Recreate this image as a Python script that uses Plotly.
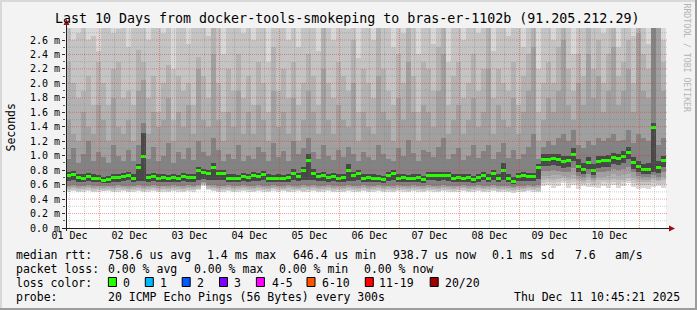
import numpy as np
import pandas as pd
import plotly.graph_objects as go

# ------------------------------------------------------------------ data
TITLE = "Last 10 Days from docker-tools-smokeping to bras-er-1102b (91.205.212.29)"
first_column = "2025-12-01 10:40:00"     # start of first 2-hour consolidation column
column_hours = 2
view_start = "2025-12-01 10:36:00"
view_days = 10

x_tick_times = ["2025-12-01 12:00", "2025-12-02 12:00", "2025-12-03 12:00", "2025-12-04 12:00",
                "2025-12-05 12:00", "2025-12-06 12:00", "2025-12-07 12:00", "2025-12-08 12:00",
                "2025-12-09 12:00", "2025-12-10 12:00"]
x_tick_labels = ["01 Dec", "02 Dec", "03 Dec", "04 Dec", "05 Dec",
                 "06 Dec", "07 Dec", "08 Dec", "09 Dec", "10 Dec"]
y_tick_values = [0.0, 0.2, 0.4, 0.6, 0.8, 1.0, 1.2, 1.4, 1.6, 1.8, 2.0, 2.2, 2.4, 2.6]
y_tick_labels = ["0.0 m", "0.2 m", "0.4 m", "0.6 m", "0.8 m", "1.0 m", "1.2 m",
                 "1.4 m", "1.6 m", "1.8 m", "2.0 m", "2.2 m", "2.4 m", "2.6 m"]
y_max = 2.766   # ms

# median RTT (ms) per 2-hour column
median_rtt = [
    0.72, 0.74, 0.70, 0.69, 0.71, 0.69, 0.68, 0.66, 0.67, 0.70, 0.70, 0.71,
    0.73, 0.69, 0.83, 0.99, 0.70, 0.71, 0.69, 0.70, 0.68, 0.70, 0.68, 0.71,
    0.70, 0.70, 0.79, 0.77, 0.75, 0.83, 0.75, 0.75, 0.69, 0.69, 0.68, 0.71,
    0.70, 0.72, 0.71, 0.74, 0.69, 0.68, 0.69, 0.68, 0.70, 0.76, 0.71, 0.80,
    0.94, 0.76, 0.71, 0.72, 0.70, 0.71, 0.69, 0.70, 0.80, 0.72, 0.75, 0.69,
    0.70, 0.69, 0.68, 0.67, 0.72, 0.75, 0.69, 0.70, 0.68, 0.69, 0.70, 0.67,
    0.73, 0.73, 0.72, 0.73, 0.72, 0.69, 0.70, 0.69, 0.70, 0.67, 0.70, 0.73,
    0.69, 0.75, 0.69, 0.80, 0.69, 0.65, 0.71, 0.72, 0.71, 0.71, 0.83, 0.95,
    0.95, 0.96, 0.95, 0.92, 0.93, 1.02, 0.85, 0.81, 0.90, 0.80, 0.92, 0.93,
    0.94, 0.97, 0.96, 0.99, 1.04, 0.91, 0.85, 0.81, 0.81, 1.39, 0.84, 0.94]

# smoke: sorted-ping envelopes (ms); band 1 = outermost pair, band 6 = innermost
ping_hi_1 = [3.0] * 120   # outermost ping is above the top of the scale in every column
ping_hi_2 = [
    3.0, 2.6, 2.7, 3.0, 2.6, 2.65, 2.45, 3.0, 3.0, 2.7, 2.75, 3.0,
    2.5, 3.0, 3.0, 3.0, 2.6, 3.0, 3.0, 2.7, 3.0, 2.2, 3.0, 3.0,
    2.55, 3.0, 3.0, 3.0, 2.65, 3.0, 3.0, 2.4, 3.0, 3.0, 3.0, 2.7,
    3.0, 2.6, 3.0, 3.0, 2.3, 3.0, 3.0, 3.0, 2.6, 3.0, 2.5, 3.0,
    3.0, 3.0, 2.45, 3.0, 3.0, 2.6, 3.0, 3.0, 2.75, 3.0, 2.35, 3.0,
    3.0, 2.6, 3.0, 3.0, 3.0, 2.5, 3.0, 2.7, 3.0, 3.0, 2.4, 3.0,
    3.0, 2.55, 3.0, 3.0, 2.3, 3.0, 3.0, 2.6, 3.0, 3.0, 2.7, 3.0,
    3.0, 2.45, 3.0, 3.0, 2.65, 3.0, 3.0, 2.5, 3.0, 3.0, 2.2, 3.0,
    3.0, 2.6, 3.0, 3.0, 3.0, 2.4, 3.0, 3.0, 2.6, 3.0, 3.0, 2.7,
    3.0, 3.0, 2.5, 3.0, 3.0, 2.65, 3.0, 3.0, 2.55, 3.0, 3.0, 2.6]
ping_hi_3 = [
    2.3, 2.0, 1.8, 1.9, 2.1, 1.7, 2.3, 2.0, 1.7, 2.2, 2.3, 1.8,
    1.9, 1.7, 2.46, 2.3, 1.8, 2.1, 1.6, 2.0, 2.25, 1.5, 2.1, 1.9,
    2.0, 1.7, 2.36, 2.1, 1.8, 3.0, 2.0, 1.6, 2.2, 1.9, 2.4, 1.8,
    2.1, 1.7, 2.3, 2.0, 1.6, 2.5, 1.9, 2.2, 1.8, 2.3, 1.7, 2.0,
    2.4, 2.1, 1.7, 3.0, 2.0, 1.8, 2.3, 2.1, 1.9, 2.6, 1.6, 2.2,
    2.0, 1.8, 3.0, 2.2, 1.9, 1.7, 2.4, 2.0, 3.0, 2.1, 1.6, 2.3,
    2.2, 1.9, 2.5, 3.0, 1.7, 2.1, 2.3, 1.8, 2.0, 2.4, 1.9, 2.2,
    3.0, 1.8, 2.2, 2.0, 1.9, 2.3, 1.7, 2.1, 2.4, 3.0, 1.6, 2.0,
    2.3, 2.0, 2.5, 3.0, 2.2, 1.9, 2.4, 2.1, 3.0, 2.2, 2.6, 2.0,
    2.4, 3.0, 2.1, 2.3, 2.6, 2.0, 3.0, 2.4, 2.2, 2.5, 3.0, 2.3]
ping_hi_4 = [
    1.5, 1.3, 1.2, 1.6, 1.4, 1.3, 1.7, 1.5, 1.2, 1.8, 1.4, 1.3,
    1.5, 1.2, 1.9, 2.05, 1.3, 1.6, 1.4, 1.5, 1.8, 1.2, 1.6, 1.4,
    1.7, 1.3, 2.2, 1.5, 1.4, 2.4, 1.5, 1.2, 1.6, 1.4, 1.9, 1.3,
    1.6, 1.3, 1.7, 1.5, 1.2, 1.9, 1.4, 1.6, 1.3, 1.8, 1.2, 1.5,
    1.9, 1.6, 1.3, 2.2, 1.5, 1.3, 1.7, 1.5, 1.4, 2.0, 1.2, 1.6,
    1.4, 1.3, 2.1, 1.6, 1.5, 1.2, 1.8, 1.5, 2.3, 1.6, 1.2, 1.7,
    1.6, 1.4, 1.9, 2.4, 1.3, 1.5, 1.7, 1.3, 1.5, 1.8, 1.4, 1.6,
    2.2, 1.3, 1.7, 1.5, 1.4, 1.8, 1.3, 1.6, 1.9, 2.5, 1.2, 1.5,
    1.8, 1.6, 1.9, 2.6, 1.7, 1.5, 2.0, 1.7, 2.4, 1.8, 2.1, 1.6,
    1.9, 2.5, 1.7, 1.9, 2.2, 1.6, 2.7, 1.9, 1.8, 3.0, 2.8, 1.9]
ping_hi_5 = [
    0.95, 1.10, 0.90, 1.02, 1.20, 0.92, 1.05, 0.98, 0.90, 1.15, 1.00, 0.93,
    1.08, 0.92, 1.15, 1.45, 0.95, 1.12, 0.93, 1.00, 1.18, 0.90, 1.05, 0.96,
    1.10, 0.94, 1.20, 1.05, 1.00, 1.25, 1.08, 0.92, 1.02, 0.95, 1.15, 0.92,
    1.00, 0.95, 1.12, 1.05, 0.92, 1.18, 0.98, 1.06, 0.93, 1.20, 1.02, 1.10,
    1.25, 1.05, 0.95, 1.15, 1.00, 0.94, 1.08, 0.98, 1.12, 1.02, 0.93, 1.05,
    0.98, 0.94, 1.15, 1.02, 0.96, 0.92, 1.10, 1.00, 1.22, 1.04, 0.92, 1.08,
    1.05, 0.98, 1.12, 1.25, 0.95, 1.02, 1.10, 0.94, 1.00, 1.15, 0.97, 1.06,
    1.15, 0.96, 1.05, 1.18, 0.97, 1.08, 0.95, 1.02, 1.12, 1.30, 0.96, 1.12,
    1.20, 1.15, 1.25, 1.30, 1.20, 1.35, 1.15, 1.10, 1.20, 1.15, 1.25, 1.20,
    1.25, 1.30, 1.20, 1.22, 1.35, 1.18, 1.30, 1.25, 1.20, 3.00, 1.15, 1.25]
ping_hi_6 = [
    0.77, 0.79, 0.75, 0.74, 0.76, 0.74, 0.73, 0.71, 0.72, 0.75, 0.75, 0.76,
    0.78, 0.74, 0.88, 1.32, 0.75, 0.76, 0.74, 0.75, 0.73, 0.75, 0.73, 0.76,
    0.75, 0.75, 0.84, 0.82, 0.80, 0.90, 0.80, 0.80, 0.74, 0.74, 0.73, 0.76,
    0.75, 0.77, 0.76, 0.79, 0.74, 0.73, 0.74, 0.73, 0.75, 0.81, 0.76, 0.85,
    1.02, 0.81, 0.76, 0.77, 0.75, 0.76, 0.74, 0.75, 0.88, 0.77, 0.80, 0.74,
    0.75, 0.74, 0.73, 0.72, 0.77, 0.80, 0.74, 0.75, 0.73, 0.74, 0.75, 0.72,
    0.78, 0.78, 0.77, 0.78, 0.77, 0.74, 0.75, 0.74, 0.75, 0.72, 0.75, 0.78,
    0.74, 0.80, 0.74, 0.90, 0.74, 0.70, 0.76, 0.77, 0.76, 0.76, 0.88, 1.02,
    1.02, 1.03, 1.02, 0.99, 1.00, 1.10, 0.95, 0.90, 0.98, 0.89, 0.99, 1.00,
    1.01, 1.04, 1.03, 1.06, 1.12, 0.98, 0.92, 0.88, 0.90, 1.45, 0.92, 1.00]
ping_lo_6 = [
    0.65, 0.66, 0.64, 0.63, 0.645, 0.63, 0.63, 0.62, 0.625, 0.64, 0.64, 0.645,
    0.66, 0.635, 0.65, 0.65, 0.64, 0.645, 0.63, 0.64, 0.63, 0.64, 0.63, 0.645,
    0.64, 0.64, 0.66, 0.68, 0.66, 0.66, 0.66, 0.66, 0.635, 0.635, 0.63, 0.645,
    0.64, 0.655, 0.645, 0.66, 0.635, 0.63, 0.635, 0.63, 0.64, 0.66, 0.645, 0.66,
    0.66, 0.66, 0.645, 0.65, 0.64, 0.645, 0.635, 0.64, 0.65, 0.65, 0.66, 0.635,
    0.64, 0.635, 0.63, 0.625, 0.65, 0.66, 0.635, 0.64, 0.63, 0.635, 0.64, 0.625,
    0.66, 0.66, 0.65, 0.66, 0.65, 0.635, 0.64, 0.635, 0.64, 0.625, 0.64, 0.66,
    0.635, 0.66, 0.635, 0.66, 0.635, 0.61, 0.645, 0.65, 0.645, 0.645, 0.68, 0.86,
    0.86, 0.87, 0.86, 0.83, 0.84, 0.92, 0.77, 0.74, 0.81, 0.73, 0.83, 0.84,
    0.85, 0.88, 0.87, 0.90, 0.95, 0.82, 0.77, 0.74, 0.74, 0.78, 0.76, 0.85]
ping_lo_5 = [
    0.585, 0.59, 0.58, 0.585, 0.59, 0.58, 0.585, 0.575, 0.585, 0.58, 0.59, 0.585,
    0.58, 0.585, 0.59, 0.58, 0.585, 0.59, 0.58, 0.585, 0.58, 0.59, 0.585, 0.58,
    0.59, 0.585, 0.60, 0.64, 0.60, 0.59, 0.58, 0.585, 0.59, 0.58, 0.585, 0.59,
    0.585, 0.58, 0.59, 0.585, 0.58, 0.59, 0.585, 0.58, 0.59, 0.585, 0.58, 0.59,
    0.585, 0.59, 0.58, 0.585, 0.59, 0.58, 0.585, 0.58, 0.59, 0.585, 0.58, 0.59,
    0.58, 0.585, 0.59, 0.58, 0.585, 0.58, 0.59, 0.585, 0.58, 0.59, 0.585, 0.58,
    0.59, 0.585, 0.58, 0.59, 0.585, 0.58, 0.585, 0.59, 0.58, 0.585, 0.59, 0.58,
    0.585, 0.59, 0.58, 0.585, 0.58, 0.57, 0.585, 0.58, 0.59, 0.585, 0.59, 0.79,
    0.79, 0.80, 0.79, 0.77, 0.77, 0.83, 0.72, 0.70, 0.75, 0.69, 0.77, 0.78,
    0.79, 0.81, 0.80, 0.82, 0.84, 0.77, 0.72, 0.70, 0.70, 0.73, 0.71, 0.78]
ping_lo_4 = [
    0.562, 0.567, 0.557, 0.562, 0.567, 0.557, 0.562, 0.555, 0.562, 0.557, 0.567, 0.562,
    0.557, 0.562, 0.567, 0.557, 0.562, 0.567, 0.557, 0.562, 0.557, 0.567, 0.562, 0.557,
    0.567, 0.562, 0.58, 0.625, 0.58, 0.567, 0.557, 0.562, 0.567, 0.557, 0.562, 0.567,
    0.562, 0.557, 0.567, 0.562, 0.557, 0.567, 0.562, 0.557, 0.567, 0.562, 0.557, 0.567,
    0.562, 0.567, 0.557, 0.562, 0.567, 0.557, 0.562, 0.557, 0.567, 0.562, 0.557, 0.567,
    0.557, 0.562, 0.567, 0.557, 0.562, 0.557, 0.567, 0.562, 0.557, 0.567, 0.562, 0.557,
    0.567, 0.562, 0.557, 0.567, 0.562, 0.557, 0.562, 0.567, 0.557, 0.562, 0.567, 0.557,
    0.562, 0.567, 0.557, 0.562, 0.557, 0.55, 0.562, 0.557, 0.567, 0.562, 0.567, 0.72,
    0.72, 0.73, 0.73, 0.72, 0.71, 0.73, 0.68, 0.67, 0.70, 0.66, 0.70, 0.71,
    0.72, 0.74, 0.72, 0.73, 0.75, 0.71, 0.68, 0.66, 0.66, 0.69, 0.67, 0.71]
ping_lo_3 = [
    0.542, 0.547, 0.538, 0.542, 0.547, 0.538, 0.542, 0.536, 0.542, 0.538, 0.547, 0.542,
    0.538, 0.542, 0.547, 0.538, 0.542, 0.547, 0.538, 0.542, 0.538, 0.547, 0.542, 0.538,
    0.547, 0.542, 0.56, 0.61, 0.56, 0.547, 0.538, 0.542, 0.547, 0.538, 0.542, 0.547,
    0.542, 0.538, 0.547, 0.542, 0.538, 0.55, 0.542, 0.538, 0.547, 0.542, 0.538, 0.547,
    0.542, 0.547, 0.538, 0.542, 0.547, 0.538, 0.542, 0.538, 0.547, 0.542, 0.538, 0.547,
    0.538, 0.542, 0.547, 0.538, 0.542, 0.538, 0.547, 0.542, 0.538, 0.547, 0.542, 0.538,
    0.547, 0.542, 0.538, 0.547, 0.542, 0.538, 0.542, 0.547, 0.538, 0.542, 0.547, 0.538,
    0.542, 0.547, 0.538, 0.542, 0.538, 0.532, 0.542, 0.538, 0.547, 0.542, 0.547, 0.67,
    0.68, 0.67, 0.68, 0.69, 0.67, 0.68, 0.65, 0.64, 0.66, 0.63, 0.66, 0.67,
    0.67, 0.68, 0.66, 0.67, 0.69, 0.66, 0.64, 0.63, 0.63, 0.66, 0.65, 0.66]
ping_lo_2 = [
    0.522, 0.526, 0.518, 0.522, 0.526, 0.518, 0.522, 0.518, 0.526, 0.518, 0.522, 0.526,
    0.518, 0.522, 0.526, 0.518, 0.522, 0.526, 0.518, 0.522, 0.518, 0.526, 0.522, 0.518,
    0.526, 0.522, 0.54, 0.60, 0.545, 0.526, 0.518, 0.522, 0.526, 0.518, 0.522, 0.526,
    0.522, 0.518, 0.526, 0.522, 0.518, 0.535, 0.522, 0.526, 0.518, 0.522, 0.526, 0.518,
    0.522, 0.526, 0.518, 0.522, 0.526, 0.518, 0.522, 0.518, 0.526, 0.522, 0.518, 0.526,
    0.518, 0.522, 0.526, 0.518, 0.522, 0.518, 0.526, 0.522, 0.518, 0.526, 0.522, 0.518,
    0.526, 0.522, 0.518, 0.526, 0.522, 0.518, 0.522, 0.526, 0.518, 0.522, 0.526, 0.518,
    0.522, 0.526, 0.518, 0.522, 0.518, 0.512, 0.522, 0.518, 0.526, 0.522, 0.518, 0.62,
    0.64, 0.62, 0.63, 0.65, 0.62, 0.64, 0.61, 0.61, 0.62, 0.60, 0.61, 0.63,
    0.62, 0.64, 0.61, 0.63, 0.65, 0.62, 0.60, 0.59, 0.59, 0.62, 0.61, 0.61]
ping_lo_1 = [
    0.50, 0.505, 0.50, 0.50, 0.505, 0.50, 0.50, 0.505, 0.505, 0.50, 0.50, 0.505,
    0.50, 0.50, 0.505, 0.50, 0.50, 0.505, 0.50, 0.50, 0.50, 0.505, 0.50, 0.50,
    0.505, 0.50, 0.52, 0.58, 0.53, 0.505, 0.50, 0.50, 0.505, 0.50, 0.50, 0.505,
    0.50, 0.50, 0.505, 0.50, 0.50, 0.515, 0.50, 0.505, 0.50, 0.50, 0.505, 0.50,
    0.50, 0.505, 0.50, 0.50, 0.505, 0.50, 0.50, 0.50, 0.505, 0.50, 0.50, 0.505,
    0.50, 0.50, 0.505, 0.50, 0.50, 0.50, 0.505, 0.50, 0.50, 0.505, 0.50, 0.50,
    0.505, 0.50, 0.50, 0.505, 0.50, 0.50, 0.50, 0.505, 0.50, 0.50, 0.505, 0.50,
    0.50, 0.505, 0.50, 0.50, 0.50, 0.49, 0.50, 0.50, 0.505, 0.50, 0.50, 0.58,
    0.60, 0.55, 0.58, 0.62, 0.56, 0.60, 0.54, 0.58, 0.57, 0.57, 0.55, 0.58,
    0.56, 0.60, 0.55, 0.58, 0.62, 0.57, 0.54, 0.55, 0.54, 0.57, 0.58, 0.55]

smoke_colors = ["#d8d8d8", "#c4c4c4", "#b2b2b2", "#a0a0a0", "#838383", "#484848"]
loss_labels = ["0", "1", "2", "3", "4-5", "6-10", "11-19", "20/20"]
loss_colors = ["#26ff00", "#00b8ff", "#0059ff", "#7e00ff", "#ff00ff", "#ff5500", "#ff0000", "#a10000"]

stats_rtt = ["758.6 us avg", "1.4 ms max", "646.4 us min", "938.7 us now", "0.1 ms sd", "7.6", "am/s"]
stats_loss = ["0.00 % avg", "0.00 % max", "0.00 % min", "0.00 % now"]
probe_text = "20 ICMP Echo Pings (56 Bytes) every 300s"
stamp_text = "Thu Dec 11 10:45:21 2025"

# ------------------------------------------------------------------ geometry helpers (pixels -> paper)
W, H = 697, 310
PL, PR, PT, PB = 66, 666, 28, 228
FONT = "DejaVu Sans Mono"


def fx(px):
    return (px - PL) / (PR - PL)


def fy(py):
    return (PB - py) / (PB - PT)


col_ms = column_hours * 3600 * 1000
times = pd.date_range(first_column, periods=len(median_rtt), freq=f"{column_hours}h") + pd.Timedelta(hours=column_hours / 2)

fig = go.Figure()

his = [ping_hi_1, ping_hi_2, ping_hi_3, ping_hi_4, ping_hi_5, ping_hi_6]
los = [ping_lo_1, ping_lo_2, ping_lo_3, ping_lo_4, ping_lo_5, ping_lo_6]
for hi, lo, col in zip(his, los, smoke_colors):
    hi = np.array(hi)
    lo = np.array(lo)
    fig.add_trace(go.Bar(x=times, y=hi - lo, base=lo, width=col_ms,
                         marker=dict(color=col, line=dict(width=0)),
                         hoverinfo="skip", showlegend=False))

med = np.array(median_rtt)
thick = 3 * y_max / (PB - PT)
fig.add_trace(go.Bar(x=times, y=[thick] * len(med), base=med - thick / 2, width=col_ms,
                     marker=dict(color=loss_colors[0], line=dict(width=0)),
                     hoverinfo="skip", showlegend=False))

shapes = []
# grid (drawn above the smoke, like rrdtool)
view_end = pd.Timestamp(view_start) + pd.Timedelta(days=view_days)
for t in pd.date_range("2025-12-01 12:00", view_end, freq="6h"):
    major = t.hour == 0
    shapes.append(dict(type="line", xref="x", yref="paper", x0=t, x1=t, y0=0, y1=1,
                       line=dict(color="rgba(230,40,40,0.45)" if major else "rgba(120,120,120,0.35)",
                                 width=1, dash="1px,1px"), layer="above"))
for i in range(1, 28):
    v = i * 0.1
    major = i % 2 == 0
    shapes.append(dict(type="line", xref="paper", yref="y", x0=0, x1=fx(668), y0=v, y1=v,
                       line=dict(color="rgba(230,40,40,0.45)" if major else "rgba(120,120,120,0.35)",
                                 width=1, dash="1px,1px"), layer="above"))
# axes
axis_col = "#202020"
shapes.append(dict(type="line", xref="paper", yref="paper", x0=fx(66.5), x1=fx(66.5), y0=fy(231), y1=fy(24),
                   line=dict(color=axis_col, width=1), layer="above"))
shapes.append(dict(type="line", xref="paper", yref="paper", x0=fx(62), x1=fx(670), y0=fy(228.5), y1=fy(228.5),
                   line=dict(color=axis_col, width=1), layer="above"))
arrow_col = "#9a1010"
shapes.append(dict(type="path", xref="paper", yref="paper",
                   path=f"M {fx(63.5)} {fy(25)} L {fx(69.5)} {fy(25)} L {fx(66.5)} {fy(19)} Z",
                   fillcolor=arrow_col, line=dict(width=0), layer="above"))
shapes.append(dict(type="path", xref="paper", yref="paper",
                   path=f"M {fx(669)} {fy(225.5)} L {fx(669)} {fy(231.5)} L {fx(675)} {fy(228.5)} Z",
                   fillcolor=arrow_col, line=dict(width=0), layer="above"))
# frame
shapes.append(dict(type="rect", xref="paper", yref="paper", x0=fx(0), x1=fx(W), y0=fy(0), y1=fy(2),
                   fillcolor="#d8d8d8", line=dict(width=0), layer="above"))
shapes.append(dict(type="rect", xref="paper", yref="paper", x0=fx(0), x1=fx(2), y0=fy(0), y1=fy(H),
                   fillcolor="#d8d8d8", line=dict(width=0), layer="above"))
shapes.append(dict(type="rect", xref="paper", yref="paper", x0=fx(0), x1=fx(W), y0=fy(H - 2), y1=fy(H),
                   fillcolor="#9c9c9c", line=dict(width=0), layer="above"))
shapes.append(dict(type="rect", xref="paper", yref="paper", x0=fx(W - 2), x1=fx(W), y0=fy(0), y1=fy(H),
                   fillcolor="#9c9c9c", line=dict(width=0), layer="above"))

annotations = []


def ann(text, x, y, size=11.5, anchor="left", color="#000000", angle=0):
    annotations.append(dict(text=text, x=fx(x), y=fy(y), xref="paper", yref="paper",
                            xanchor=anchor, yanchor="middle", showarrow=False, textangle=angle,
                            font=dict(family=FONT, size=size, color=color)))


ann(TITLE, 347, 18.5, size=13.3, anchor="center")
ann("Seconds", 10.5, 128, size=11.5, anchor="center", angle=-90)
ann("RRDTOOL / TOBI OETIKER", 686.5, 58, size=8.2, anchor="center", color="#b4b4b4", angle=90)

# legend rows
ann("median rtt:", 14, 255)
for txt, x in zip(stats_rtt, [105.6, 204.5, 291.3, 391.3, 490.4, 573.0, 612.7]):
    ann(txt, x, 255)
ann("packet loss:", 14, 268.5)
for txt, x in zip(stats_loss, [105.6, 191.8, 277.1, 362.4]):
    ann(txt, x, 268.5)
ann("loss color:", 14, 282.5)
box_x = [108.4, 145.3, 182.2, 219.5, 256.4, 307.0, 365.3, 430.2]
lab_x = [121.0, 157.5, 195.0, 232.0, 269.6, 319.8, 377.0, 443.3]
for lab, col, bx, lx in zip(loss_labels, loss_colors, box_x, lab_x):
    shapes.append(dict(type="rect", xref="paper", yref="paper", x0=fx(bx), x1=fx(bx + 8),
                       y0=fy(277.5), y1=fy(286.5), fillcolor=col, line=dict(color="#000000", width=1),
                       layer="above"))
    ann(lab, lx, 282.5)
ann("probe:", 14, 296.5)
ann(probe_text, 105.6, 296.5)
ann(stamp_text, 682, 296.5, anchor="right")

fig.update_layout(
    width=W, height=H, autosize=False,
    margin=dict(l=PL, r=W - PR, t=PT, b=H - PB, pad=0),
    paper_bgcolor="#f3f3f3", plot_bgcolor="#ffffff",
    barmode="overlay", bargap=0, showlegend=False,
    font=dict(family=FONT, color="#000000"),
    shapes=shapes, annotations=annotations,
    xaxis=dict(type="date", range=[pd.Timestamp(view_start), view_end],
               tickmode="array", tickvals=x_tick_times, ticktext=x_tick_labels,
               tickfont=dict(family=FONT, size=10, color="#000000"),
               showgrid=False, zeroline=False, showline=False, ticks="", fixedrange=True),
    yaxis=dict(range=[0, y_max], tickmode="array", tickvals=y_tick_values, ticktext=y_tick_labels,
               tickfont=dict(family=FONT, size=10, color="#000000"),
               ticks="outside", ticklen=3, tickcolor="#303030", tickwidth=1,
               minor=dict(tickmode="array", tickvals=[round(0.1 + 0.2 * i, 1) for i in range(14)],
                          ticks="outside", ticklen=2, tickcolor="#606060"),
               showgrid=False, zeroline=False, showline=False, fixedrange=True),
)

fig.write_html("out.html", config={"displayModeBar": False})
